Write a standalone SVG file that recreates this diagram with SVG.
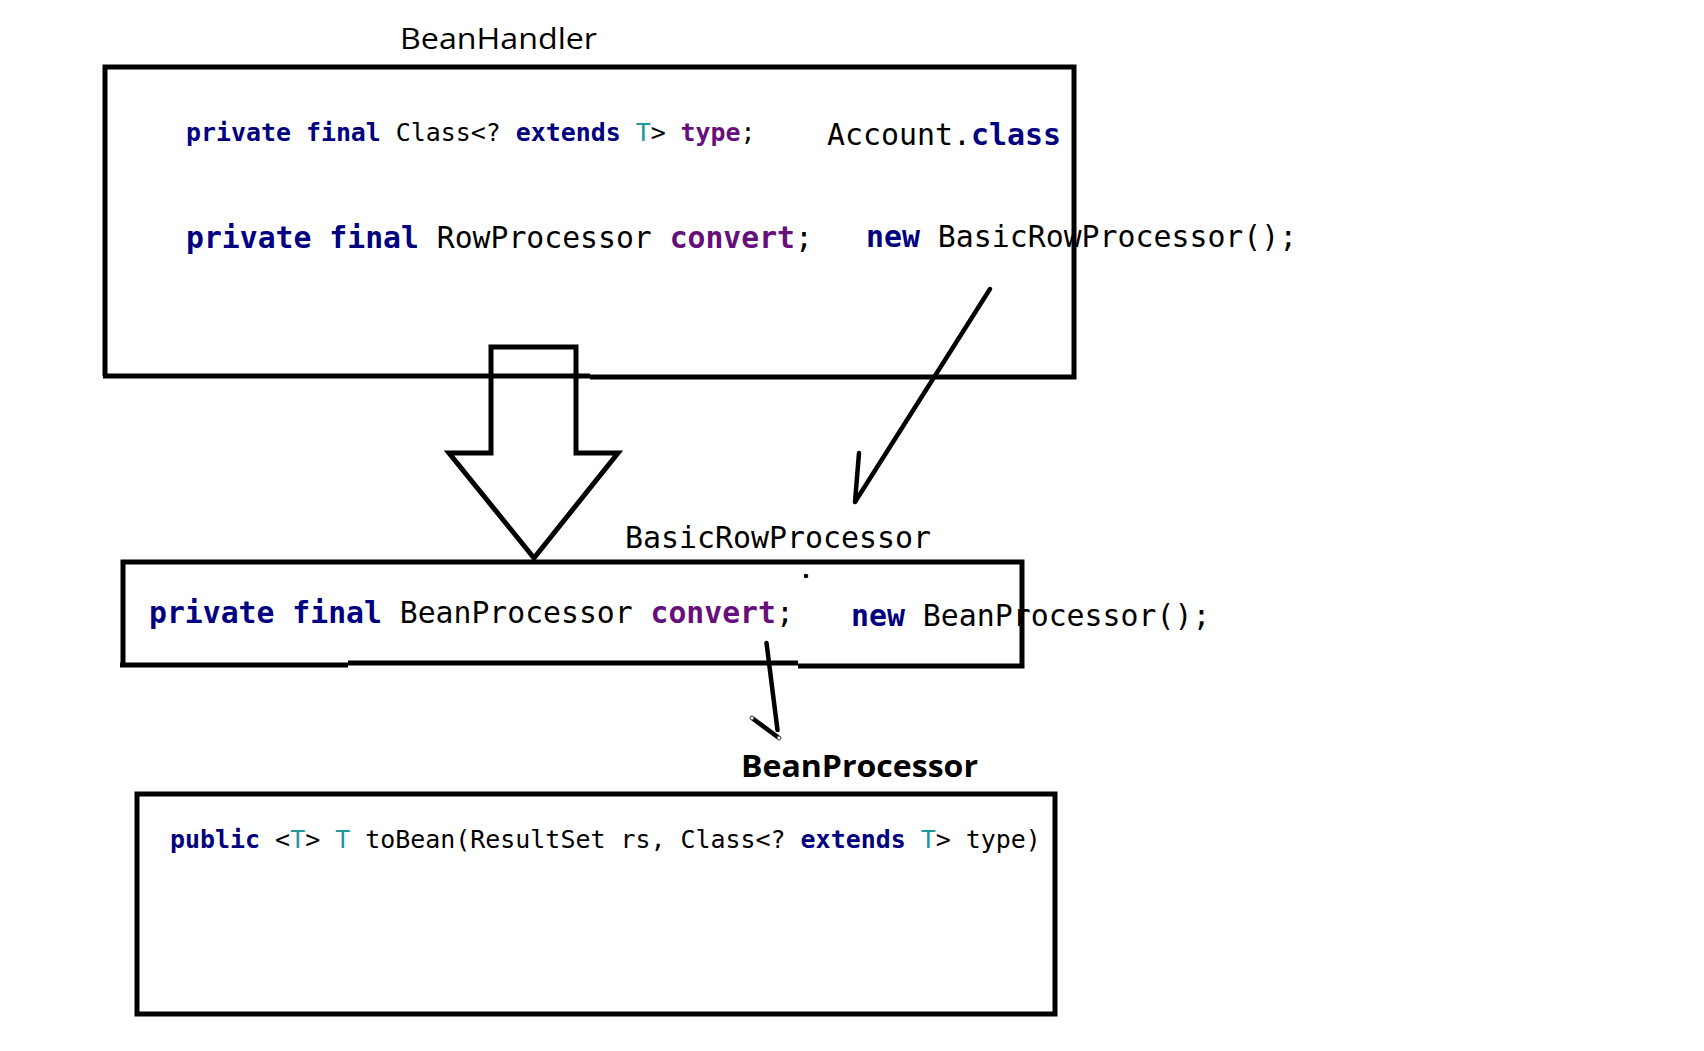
<svg xmlns="http://www.w3.org/2000/svg" width="1704" height="1051" viewBox="0 0 1704 1051">
<style>
.box{fill:none;stroke:#000;stroke-width:5;stroke-linejoin:miter}
.ln{fill:none;stroke:#000;stroke-width:4.5;stroke-linecap:round}
.code{font-family:"DejaVu Sans Mono","Liberation Mono",monospace;fill:#000}
.kw{fill:#000080;font-weight:bold}
.fd{fill:#660E7A;font-weight:bold}
.tp{fill:#20999D}
.lbl{font-family:"Open Sans","Noto Sans","Liberation Sans",sans-serif;fill:#000;font-size:30px}
</style>
<rect width="1704" height="1051" fill="#fff"/>

<g id="beanhandler">
  <text class="lbl" x="400" y="49" textLength="197" lengthAdjust="spacingAndGlyphs">BeanHandler</text>
  <path class="box" d="M105,376 V67 H1074 V377 H590 M590,376 H103"/>
  <text class="code" x="186" y="141" font-size="24.9"><tspan class="kw">private</tspan> <tspan class="kw">final</tspan> Class&lt;? <tspan class="kw">extends</tspan> <tspan class="tp">T</tspan>&gt; <tspan class="fd">type</tspan>;</text>
  <text class="code" x="827" y="145" font-size="29.9">Account.<tspan class="kw">class</tspan></text>
  <text class="code" x="186" y="248" font-size="29.75"><tspan class="kw">private</tspan> <tspan class="kw">final</tspan> RowProcessor <tspan class="fd">convert</tspan>;</text>
  <text class="code" x="866" y="247" font-size="29.85"><tspan class="kw">new</tspan> BasicRowProcessor();</text>
</g>

<g id="basicrowprocessor">
  <text class="code" x="625" y="548" font-size="29.9">BasicRowProcessor</text>
  <circle cx="806" cy="576" r="2.3" fill="#000"/>
  <path class="box" d="M123,667 V562 H1022 V666 H798 M798,663 H348 M348,665 H120"/>
  <text class="code" x="149" y="623" font-size="29.75"><tspan class="kw">private</tspan> <tspan class="kw">final</tspan> BeanProcessor <tspan class="fd">convert</tspan>;</text>
  <text class="code" x="851" y="626" font-size="29.85"><tspan class="kw">new</tspan> BeanProcessor();</text>
</g>

<g id="beanprocessor">
  <text class="lbl" x="741" y="777" font-weight="bold" textLength="237" lengthAdjust="spacingAndGlyphs">BeanProcessor</text>
  <rect class="box" x="137" y="794" width="918" height="220"/>
  <text class="code" x="170" y="848" font-size="24.95"><tspan class="kw">public</tspan> &lt;<tspan class="tp">T</tspan>&gt; <tspan class="tp">T</tspan> toBean(ResultSet rs, Class&lt;? <tspan class="kw">extends</tspan> <tspan class="tp">T</tspan>&gt; type)</text>
</g>

<g id="connectors">
  <path class="box" d="M491,377 V347 H576 V453 H618 L534,558 L449,453 H491 Z"/>
  <path class="ln" d="M990,289 L855,502 M859,453 L855,502"/>
  <path class="ln" d="M766.5,643 L777.5,730 M752,718 L779,738"/>
  <rect x="750.5" y="716.5" width="3" height="3" fill="#fff" stroke="#666" stroke-width="0.8"/>
  <rect x="777.5" y="736.5" width="3" height="3" fill="#fff" stroke="#666" stroke-width="0.8"/>
</g>
</svg>
